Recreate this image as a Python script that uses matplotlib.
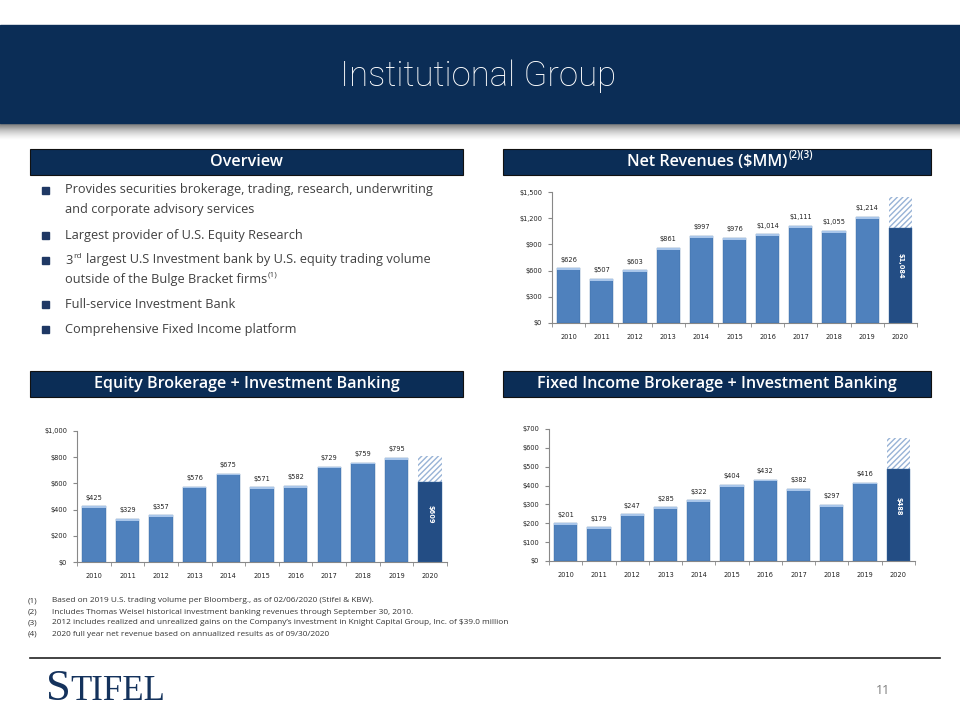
import matplotlib.pyplot as plt
import numpy as np
from matplotlib.patches import Rectangle

years = ['2010', '2011', '2012', '2013', '2014', '2015', '2016', '2017', '2018', '2019', '2020']
net_rev = [626, 507, 603, 861, 997, 976, 1014, 1111, 1055, 1214, 1084]
equity = [425, 329, 357, 576, 675, 571, 582, 729, 759, 795, 609]
fixed_inc = [201, 179, 247, 285, 322, 404, 432, 382, 297, 416, 488]
# 2020 annualized full-year totals (hatched part)
full_2020 = {'net': 1445, 'equity': 812, 'fixed': 651}

bullets = [
    ['Provides securities brokerage, trading, research, underwriting',
     'and corporate advisory services'],
    ['Largest provider of U.S. Equity Research'],
    ['3', 'largest U.S Investment bank by U.S. equity trading volume',
     'outside of the Bulge Bracket firms'],
    ['Full-service Investment Bank'],
    ['Comprehensive Fixed Income platform'],
]
footnotes = [
    'Based on 2019 U.S. trading volume per Bloomberg., as of 02/06/2020 (Stifel & KBW).',
    'Includes Thomas Weisel historical investment banking revenues through September 30, 2010.',
    "2012 includes realized and unrealized gains on the Company\u2019s investment in Knight Capital Group, Inc. of $39.0 million",
    '2020 full year net revenue based on annualized results as of 09/30/2020',
]

NAVY = '#0b2d56'
BLUE = '#4f81bd'
CAP = '#a9c6ea'
DARK = '#234d84'
TXT = '#404040'
body_font = ['Open Sans', 'DejaVu Sans']

fig = plt.figure(figsize=(9.6, 7.2), dpi=100)
bg = fig.add_axes([0, 0, 1, 1])
bg.set_xlim(0, 960)
bg.set_ylim(720, 0)
bg.axis('off')

# header band + shadow
bg.add_patch(Rectangle((0, 25), 960, 98, color=NAVY, zorder=2))
grad = np.linspace(0, 1, 50).reshape(-1, 1)
bg.imshow(grad, cmap='Greys_r', vmin=-0.6, vmax=1.0, aspect='auto',
          extent=(0, 960, 140, 123), zorder=1)
bg.set_xlim(0, 960)
bg.set_ylim(720, 0)
bg.text(478, 76, 'Institutional Group', color='white', fontsize=25,
        family=['Roboto', 'DejaVu Sans'], fontweight='light', ha='center', va='center',
        zorder=3)


def section_box(x0, x1, y0, label):
    bg.add_patch(Rectangle((x0, y0), x1 - x0, 26, facecolor=NAVY,
                           edgecolor='#111111', lw=0.8, zorder=2))
    return bg.text((x0 + x1) / 2, y0 + 13.5, label, color='white', fontsize=11.6,
                   fontweight='semibold', family=body_font, ha='center', va='center', zorder=3)


section_box(30, 463, 149, 'Overview')
t_net = section_box(503, 931, 149, 'Net Revenues ($MM)')
section_box(30, 463, 371, 'Equity Brokerage + Investment Banking')
section_box(503, 931, 371, 'Fixed Income Brokerage + Investment Banking')

fig.canvas.draw()
renderer = fig.canvas.get_renderer()
inv = bg.transData.inverted()


def right_edge(t):
    bb = t.get_window_extent(renderer)
    return inv.transform((bb.x1, bb.y1))[0]


# shift net revenue header left so the superscript fits centred
t_net.set_x(707)
fig.canvas.draw()
bg.text(right_edge(t_net) + 1, 156, '(2)(3)', color='white', fontsize=7.2,
        fontweight='semibold', family=body_font, ha='left', va='center', zorder=3)

# overview bullets
fs = 9.2
bullet_y = [190, 235, 260, 304, 329]
for by, item in zip(bullet_y, bullets):
    bg.add_patch(Rectangle((42, by - 3.5), 7, 7, color='#1f3864', zorder=2))
    if item[0] == '3':
        t3 = bg.text(65, by, '3', fontsize=fs, color=TXT, family=body_font, va='center')
        fig.canvas.draw()
        bg.text(right_edge(t3) + 0.5, by - 4, 'rd', fontsize=6, color=TXT,
                family=body_font, va='center')
        bg.text(86, by, item[1], fontsize=fs, color=TXT, family=body_font, va='center')
        t2 = bg.text(65, by + 19.5, item[2], fontsize=fs, color=TXT,
                     family=body_font, va='center')
        fig.canvas.draw()
        bg.text(right_edge(t2) + 0.5, by + 15.5, '(1)', fontsize=6, color=TXT,
                family=body_font, va='center')
    else:
        for k, line in enumerate(item):
            bg.text(65, by + 19.5 * k, line, fontsize=fs, color=TXT,
                    family=body_font, va='center')

# footnotes
for k, note in enumerate(footnotes):
    yy = 601 + 11 * k
    bg.text(28, yy, '(%d)' % (k + 1), fontsize=5.95, color='#333333', family=body_font, va='center')
    bg.text(52, yy, note, fontsize=5.95, color='#333333', family=body_font, va='center')

# footer
bg.plot([30, 940], [658, 658], color='#222222', lw=1.2)
bg.text(46, 700, 'S', fontsize=32, color='#14325c', family='Liberation Serif', va='baseline')
bg.text(70, 700, 'TIFEL', fontsize=25, color='#14325c', family='Liberation Serif',
        va='baseline')
bg.text(883, 690, '11', fontsize=9, color='#7f7f7f', family=body_font, va='center', ha='center')


def px_axes(x0, x1, ytop, ybot):
    return fig.add_axes([x0 / 960, 1 - ybot / 720, (x1 - x0) / 960, (ybot - ytop) / 720])


def bar_chart(ax, values, full, ymax, step, label_frac=0.6):
    x = np.arange(len(values))
    cap_h = ymax * 0.014
    colors = [BLUE] * (len(values) - 1) + [DARK]
    ax.bar(x[-1], full - values[-1], bottom=values[-1], width=0.7, facecolor='white',
           edgecolor='#98b3d6', hatch='//////', lw=0, zorder=2)
    ax.bar(x, values, width=0.7, color=colors, zorder=3, edgecolor='#3b6aa3', lw=0.3)
    ax.bar(x[:-1], [cap_h] * (len(values) - 1),
           bottom=np.array(values[:-1]) - cap_h, width=0.7, color=CAP, zorder=4, lw=0)
    for xi, v in zip(x[:-1], values[:-1]):
        ax.annotate('${:,}'.format(v), (xi, v), xytext=(0, 4), textcoords='offset points',
                    ha='center', va='bottom', fontsize=4.8, color='#222222')
    ax.text(x[-1], values[-1] * label_frac, '${:,}'.format(values[-1]), rotation=-90,
            ha='center', va='center', fontsize=4.8, color='white', fontweight='bold')
    ax.set_xlim(-0.5, len(values) - 0.5)
    ax.set_ylim(0, ymax)
    ticks = np.arange(0, ymax + 1, step)
    ax.set_yticks(ticks)
    ax.set_yticklabels(['${:,}'.format(int(t)) for t in ticks])
    ax.set_xticks(x)
    ax.set_xticklabels(years)
    ax.set_xticks(np.arange(-0.5, len(values)), minor=True)
    ax.tick_params(axis='x', which='major', length=0, labelsize=4.8, pad=8, labelcolor='#222222')
    ax.tick_params(axis='x', which='minor', length=3, color='#888888', direction='out')
    ax.tick_params(axis='y', length=3, color='#888888', labelsize=4.8, pad=4,
                   labelcolor='#222222')
    for s in ['top', 'right']:
        ax.spines[s].set_visible(False)
    for s in ['left', 'bottom']:
        ax.spines[s].set_color('#888888')
        ax.spines[s].set_linewidth(0.8)
    ax.patch.set_alpha(0)


ax1 = px_axes(552, 917, 192, 323)
bar_chart(ax1, net_rev, full_2020['net'], 1500, 300)
ax2 = px_axes(77, 447, 431, 562)
bar_chart(ax2, equity, full_2020['equity'], 1000, 200)
ax3 = px_axes(549, 915, 429, 561)
bar_chart(ax3, fixed_inc, full_2020['fixed'], 700, 100)

fig.savefig('out.png', dpi=100)
